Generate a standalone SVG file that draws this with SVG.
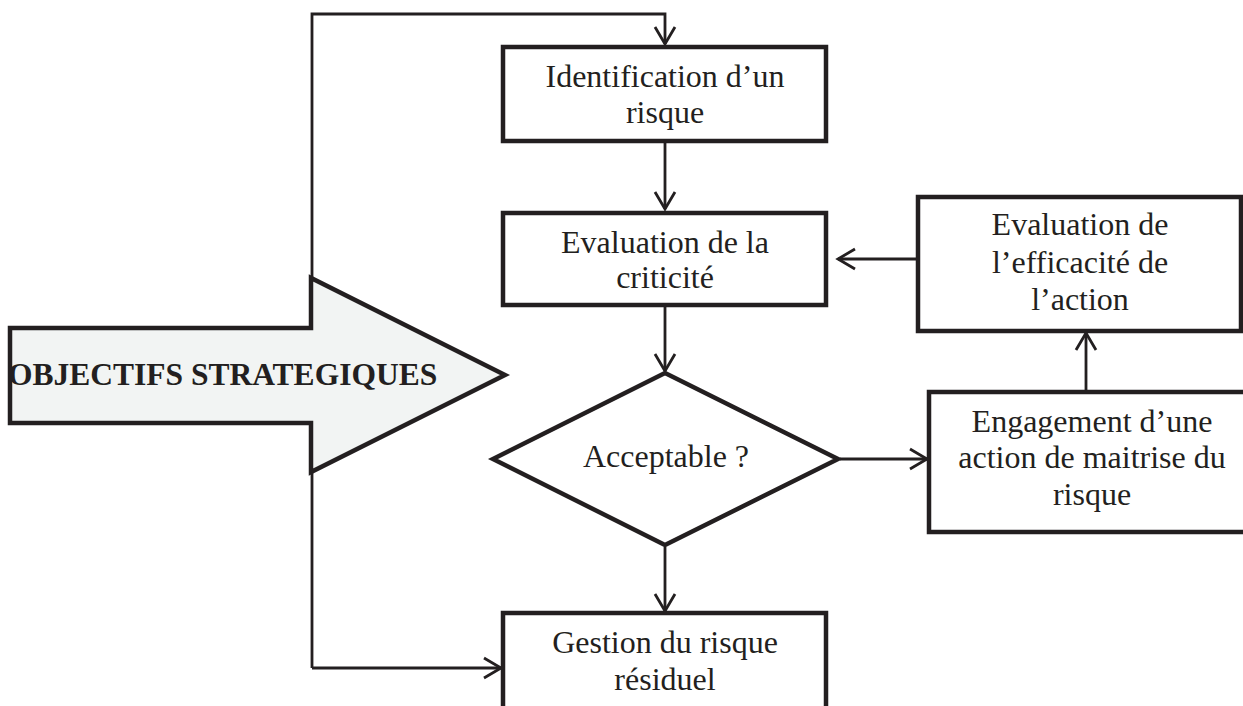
<svg xmlns="http://www.w3.org/2000/svg" width="1243" height="706" viewBox="0 0 1243 706">
<style>
.box{fill:#fff;stroke:#231f20;stroke-width:4.5}
.t{font-family:"Liberation Serif","Times New Roman",serif;font-size:32px;fill:#231f20;text-anchor:middle}
.c{fill:none;stroke:#231f20;stroke-width:2.8}
.ah{fill:none;stroke:#231f20;stroke-width:2.8;stroke-linejoin:miter}
</style>
<rect width="1243" height="706" fill="#fff"/>
<g id="connectors">
  <polyline class="c" points="312,668 312,14 665,14 665,44"/>
  <polyline class="ah" points="655,27 665,44 675,27"/>
  <line class="c" x1="665" y1="142" x2="665" y2="209"/>
  <polyline class="ah" points="655,192 665,209 675,192"/>
  <line class="c" x1="665" y1="307" x2="665" y2="371"/>
  <polyline class="ah" points="655,354 665,371 675,354"/>
  <line class="c" x1="665" y1="547" x2="665" y2="611"/>
  <polyline class="ah" points="655,594 665,611 675,594"/>
  <line class="c" x1="312" y1="668" x2="501" y2="668"/>
  <polyline class="ah" points="484,658 501,668 484,678"/>
  <line class="c" x1="840" y1="459" x2="927" y2="459"/>
  <polyline class="ah" points="910,449 927,459 910,469"/>
  <line class="c" x1="1086" y1="390" x2="1086" y2="333"/>
  <polyline class="ah" points="1076,350 1086,333 1096,350"/>
  <line class="c" x1="916" y1="259" x2="838" y2="259"/>
  <polyline class="ah" points="855,249 838,259 855,269"/>
</g>
<g id="objectifs">
  <polygon points="10,328 311,328 311,278 505,375 311,472 311,423 10,423" fill="#f2f4f3" stroke="#231f20" stroke-width="4.5" stroke-linejoin="miter"/>
  <text x="8" y="385" font-family="'Liberation Serif','Times New Roman',serif" font-size="31.5" font-weight="bold" fill="#231f20">OBJECTIFS STRATEGIQUES</text>
</g>
<g id="identification">
  <rect class="box" x="503" y="47" width="323" height="94"/>
  <text class="t" x="665" y="87">Identification d’un</text>
  <text class="t" x="665" y="123">risque</text>
</g>
<g id="evaluation">
  <rect class="box" x="503" y="213" width="323" height="92"/>
  <text class="t" x="665" y="253">Evaluation de la</text>
  <text class="t" x="665" y="288">criticité</text>
</g>
<g id="acceptable">
  <polygon class="box" points="665,373 838,459 665,545 493,459"/>
  <text class="t" x="666" y="467">Acceptable ?</text>
</g>
<g id="gestion">
  <rect class="box" x="503" y="613" width="323" height="120"/>
  <text class="t" x="665" y="653">Gestion du risque</text>
  <text class="t" x="665" y="690">résiduel</text>
</g>
<g id="efficacite">
  <rect class="box" x="918" y="197" width="323" height="134"/>
  <text class="t" x="1080" y="235">Evaluation de</text>
  <text class="t" x="1080" y="273">l’efficacité de</text>
  <text class="t" x="1080" y="310">l’action</text>
</g>
<g id="engagement">
  <rect class="box" x="929" y="392" width="330" height="140"/>
  <text class="t" x="1092" y="432">Engagement d’une</text>
  <text class="t" x="1092" y="468">action de maitrise du</text>
  <text class="t" x="1092" y="505">risque</text>
</g>
</svg>
